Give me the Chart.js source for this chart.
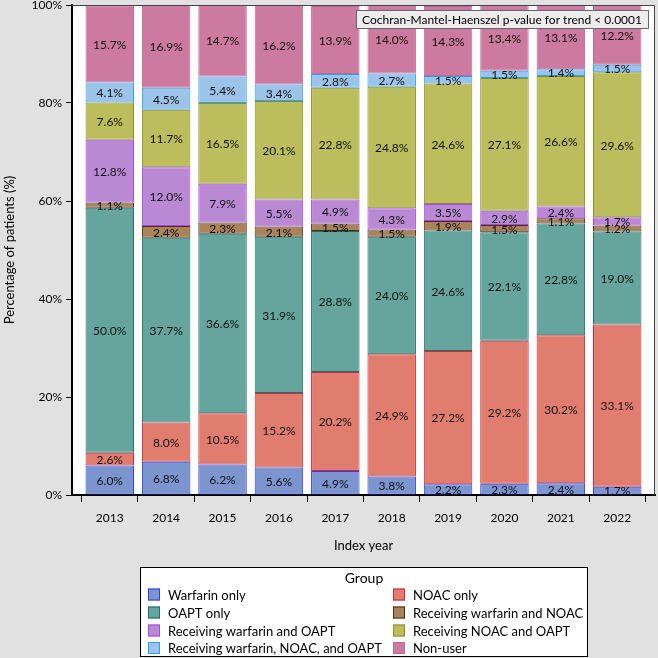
<!DOCTYPE html>
<html><head><meta charset="utf-8">
<script src="https://cdn.jsdelivr.net/npm/chart.js@4/dist/chart.umd.min.js"></script>
<style>html,body{margin:0;padding:0;background:#e1e1e1;overflow:hidden}</style>
</head><body>
<canvas id="c" width="658" height="658"></canvas>
<script>
const years = [2013, 2014, 2015, 2016, 2017, 2018, 2019, 2020, 2021, 2022];
const warfarinOnly   = [6.0, 6.8, 6.2, 5.6, 4.9, 3.8, 2.2, 2.3, 2.4, 1.7];
const noacOnly       = [2.6, 8.0, 10.5, 15.2, 20.2, 24.9, 27.2, 29.2, 30.2, 33.1];
const oaptOnly       = [50.0, 37.7, 36.6, 31.9, 28.8, 24.0, 24.6, 22.1, 22.8, 19.0];
const warfarinNoac   = [1.1, 2.4, 2.3, 2.1, 1.5, 1.5, 1.9, 1.5, 1.1, 1.2];
const warfarinOapt   = [12.8, 12.0, 7.9, 5.5, 4.9, 4.3, 3.5, 2.9, 2.4, 1.7];
const noacOapt       = [7.6, 11.7, 16.5, 20.1, 22.8, 24.8, 24.6, 27.1, 26.6, 29.6];
const allThree       = [4.1, 4.5, 5.4, 3.4, 2.8, 2.7, 1.5, 1.5, 1.4, 1.5];
const nonUser        = [15.7, 16.9, 14.7, 16.2, 13.9, 14.0, 14.3, 13.4, 13.1, 12.2];
const yTicks = [0, 20, 40, 60, 80, 100];
const groupNames = ["Warfarin only", "NOAC only", "OAPT only", "Receiving warfarin and NOAC",
  "Receiving warfarin and OAPT", "Receiving NOAC and OAPT", "Receiving warfarin, NOAC, and OAPT", "Non-user"];
const seriesValues = [warfarinOnly, noacOnly, oaptOnly, warfarinNoac, warfarinOapt, noacOapt, allThree, nonUser];
const fills   = ["#7c95cf", "#e07d6f", "#66a59e", "#a8835c", "#b98ad3", "#bcbd5c", "#9cc4e8", "#cc7a9f"];
const borders = ["#2f3dea", "#d0283c", "#1f6f66", "#4a2c10", "#a646ee", "#8a8c22", "#2aa3f5", "#c06a92"];
const annotationText = "Cochran-Mantel-Haenszel p-value for trend < 0.0001";
const legendTitle = "Group";
const FONT = 'Lato, "DejaVu Sans", sans-serif';

const datasets = groupNames.map((name, i) => ({
  label: name,
  data: years.map((y, j) => ({x: y, y: seriesValues[i][j]})),
  backgroundColor: fills[i],
  borderColor: borders[i],
  borderWidth: 1,
  borderSkipped: false,
  categoryPercentage: 1,
  barPercentage: 0.86
}));

const bgPlugin = {
  id: 'bg',
  beforeDraw(chart) {
    const {ctx, chartArea: a} = chart;
    ctx.save();
    ctx.fillStyle = '#e1e1e1';
    ctx.fillRect(0, 0, chart.width, chart.height);
    ctx.fillStyle = '#ffffff';
    ctx.fillRect(a.left, a.top, a.right - a.left, a.bottom - a.top);
    ctx.restore();
  }
};

const labelPlugin = {
  id: 'labels',
  afterDatasetsDraw(chart) {
    const {ctx, chartArea: a} = chart;
    ctx.save();
    ctx.font = '12px ' + FONT;
    ctx.fillStyle = '#111';
    ctx.textAlign = 'center';
    ctx.textBaseline = 'middle';
    chart.data.datasets.forEach((ds, i) => {
      const meta = chart.getDatasetMeta(i);
      meta.data.forEach((el, j) => {
        const v = ds.data[j].y;
        ctx.fillText(v.toFixed(1) + '%', el.x, (el.y + el.base) / 2 + 1);
      });
    });
    // frame top/right
    ctx.strokeStyle = '#444';
    ctx.lineWidth = 1;
    ctx.beginPath();
    ctx.moveTo(a.left, a.top + 0.5);
    ctx.lineTo(a.right - 0.5, a.top + 0.5);
    ctx.lineTo(a.right - 0.5, a.bottom);
    ctx.stroke();
    // annotation box
    ctx.font = '12px ' + FONT;
    const tw = ctx.measureText(annotationText).width;
    const bw = tw + 12, bh = 18;
    const bx = a.right - 7 - bw, by = a.top + 5;
    ctx.fillStyle = '#ececec';
    ctx.fillRect(bx, by, bw, bh);
    ctx.strokeStyle = '#666';
    ctx.strokeRect(bx + 0.5, by + 0.5, bw, bh);
    ctx.fillStyle = '#000';
    ctx.fillText(annotationText, bx + bw / 2, by + bh / 2 + 1);
    ctx.restore();
  }
};

const legendPlugin = {
  id: 'customLegend',
  afterDraw(chart) {
    const {ctx} = chart;
    ctx.save();
    const L = 140, T = 567, R = 588, B = 657;
    ctx.fillStyle = '#fff';
    ctx.fillRect(L, T, R - L, B - T);
    ctx.strokeStyle = '#000';
    ctx.lineWidth = 1;
    ctx.strokeRect(L + 0.5, T + 0.5, R - L - 1, B - T - 1);
    ctx.fillStyle = '#000';
    ctx.textBaseline = 'middle';
    ctx.textAlign = 'center';
    ctx.font = '14px ' + FONT;
    ctx.fillText(legendTitle, (L + R) / 2, 578);
    ctx.textAlign = 'left';
    ctx.font = '13px ' + FONT;
    const rows = [594.5, 612.5, 630.5, 648];
    const cols = [{sw: 148, tx: 168}, {sw: 393, tx: 413}];
    chart.data.datasets.forEach((ds, i) => {
      const r = Math.floor(i / 2), c = i % 2;
      const y = rows[r];
      ctx.fillStyle = ds.backgroundColor;
      ctx.fillRect(cols[c].sw, y - 6, 12, 12);
      ctx.strokeStyle = ds.borderColor;
      ctx.strokeRect(cols[c].sw + 0.5, y - 5.5, 11, 11);
      ctx.fillStyle = '#000';
      ctx.fillText(ds.label, cols[c].tx, y + 1);
    });
    ctx.restore();
  }
};

new Chart(document.getElementById('c'), {
  type: 'bar',
  data: {datasets},
  options: {
    responsive: false,
    animation: false,
    layout: {padding: {left: 0, right: 3, top: 5, bottom: 98}},
    plugins: {legend: {display: false}, tooltip: {enabled: false}},
    scales: {
      x: {
        type: 'linear',
        stacked: true,
        min: 2012.33,
        max: 2022.67,
        offset: false,
        afterFit: s => { s.height = 65; },
        ticks: {stepSize: 1, includeBounds: false, autoSkip: false, maxRotation: 0,
          callback: v => String(v), color: '#000', font: {family: FONT, size: 12}, padding: 9},
        grid: {drawOnChartArea: false, drawTicks: true, tickLength: 7, color: '#000', lineWidth: 1},
        border: {display: true, color: '#000', width: 2},
        title: {display: true, text: 'Index year', color: '#000', font: {family: FONT, size: 13}, padding: {top: 4, bottom: 6}}
      },
      y: {
        stacked: true,
        min: 0,
        max: 100,
        afterFit: s => { s.width = 72; s.paddingTop = 0; s.paddingBottom = 0; },
        afterBuildTicks: s => { s.ticks = yTicks.map(v => ({value: v})); },
        ticks: {callback: v => v + '%', color: '#000', font: {family: FONT, size: 12}, padding: 4},
        grid: {drawOnChartArea: false, drawTicks: true, tickLength: 6, color: '#000', lineWidth: 1},
        border: {display: true, color: '#000', width: 2},
        title: {display: true, text: 'Percentage of patients (%)', color: '#000', font: {family: FONT, size: 13}, padding: {top: 2, bottom: 0}}
      }
    }
  },
  plugins: [bgPlugin, labelPlugin, legendPlugin]
});
</script>
</body></html>
